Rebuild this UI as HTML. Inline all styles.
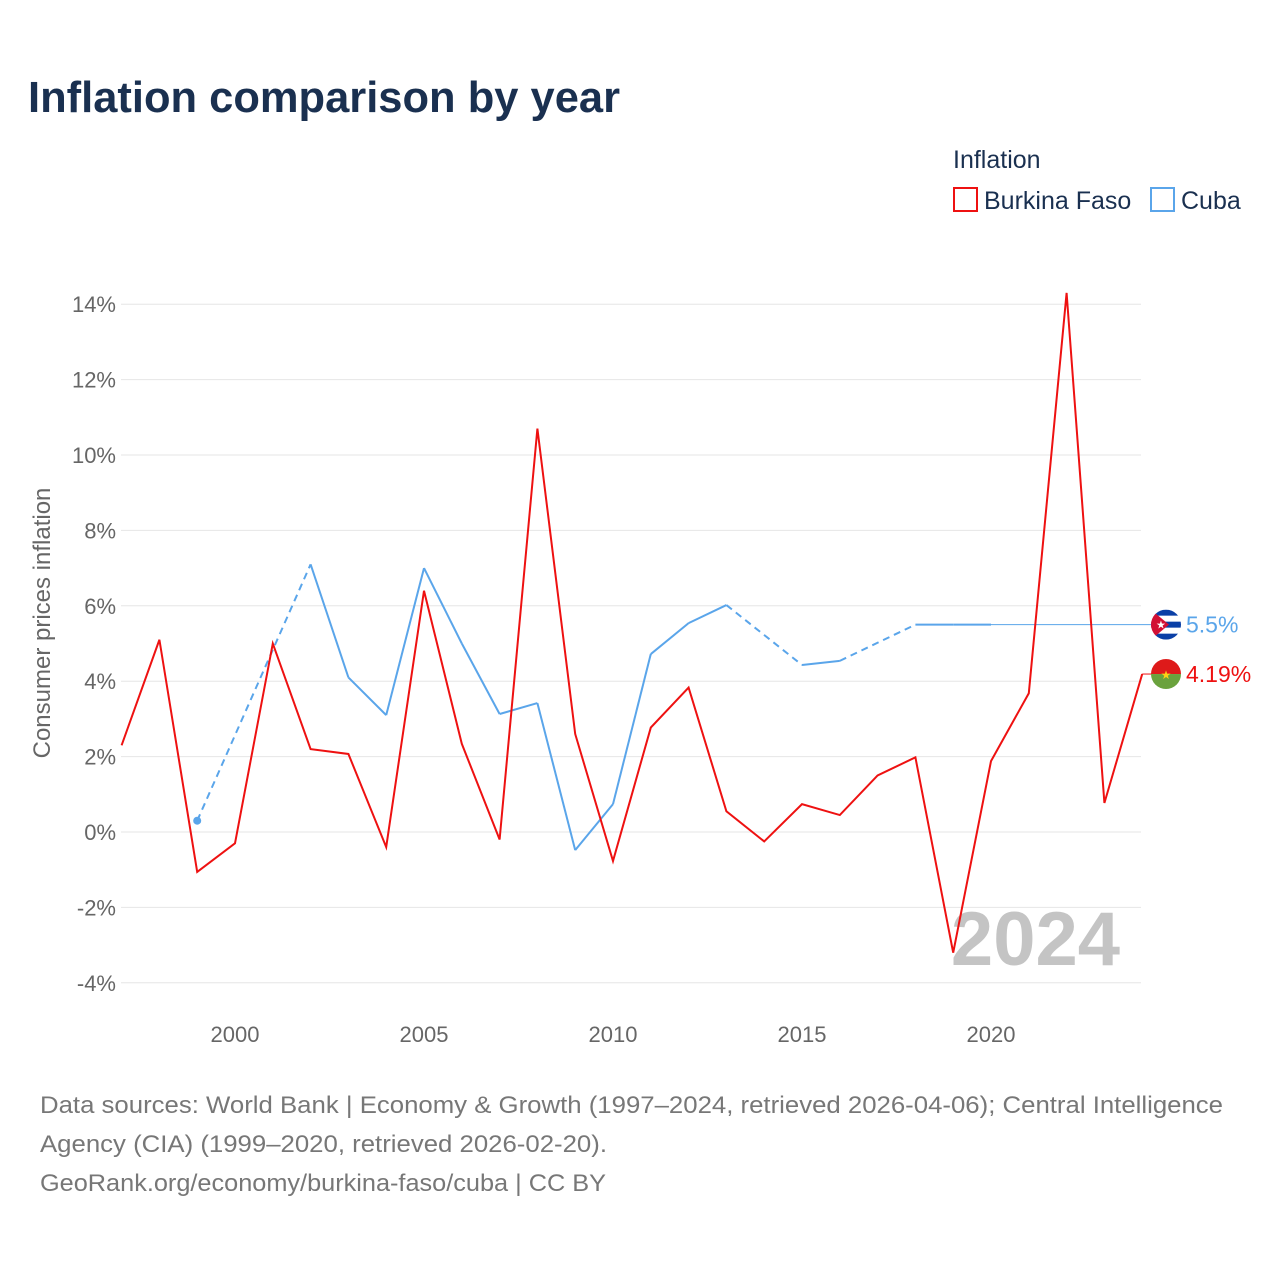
<!DOCTYPE html>
<html><head><meta charset="utf-8">
<style>
body{margin:0;background:#fff;font-family:"Liberation Sans",sans-serif;}
#wrap{position:relative;width:1280px;height:1280px;overflow:hidden;}
</style></head>
<body>
<div id="wrap">
<svg id="chart" width="1280" height="1280">
<text x="28" y="112" font-size="44" font-weight="bold" fill="#1a3050" textLength="592" lengthAdjust="spacingAndGlyphs">Inflation comparison by year</text>
<g>
<text x="953" y="168" font-size="25" fill="#1a3050">Inflation</text>
<g>
<rect x="954" y="188" width="23" height="23" fill="none" stroke="#ee1111" stroke-width="2"/>
<text x="984" y="209" font-size="25" fill="#1a3050">Burkina Faso</text></g>
<g>
<rect x="1151" y="188" width="23" height="23" fill="none" stroke="#5aa5ea" stroke-width="2"/>
<text x="1181" y="209" font-size="25" fill="#1a3050">Cuba</text></g>
</g>
<g id="grid"></g>
<text x="1120" y="965" font-size="76" font-weight="bold" fill="#c4c4c4" text-anchor="end">2024</text>
<g id="series"></g>
<text transform="translate(50,623) rotate(-90)" font-size="24" fill="#666" text-anchor="middle">Consumer prices inflation</text>
<g font-size="24" fill="#777">
<text x="40" y="1113" textLength="1183" lengthAdjust="spacingAndGlyphs">Data sources: World Bank | Economy &amp; Growth (1997–2024, retrieved 2026-04-06); Central Intelligence</text>
<text x="40" y="1152" textLength="567" lengthAdjust="spacingAndGlyphs">Agency (CIA) (1999–2020, retrieved 2026-02-20).</text>
<text x="40" y="1191" textLength="566" lengthAdjust="spacingAndGlyphs">GeoRank.org/economy/burkina-faso/cuba | CC BY</text>
</g>
</svg>
</div>
<script>
const years = [1997,1998,1999,2000,2001,2002,2003,2004,2005,2006,2007,2008,2009,2010,2011,2012,2013,2014,2015,2016,2017,2018,2019,2020,2021,2022,2023,2024];
const burkinaFaso = [2.3,5.1,-1.06,-0.3,5.0,2.2,2.07,-0.4,6.4,2.34,-0.2,10.7,2.6,-0.77,2.77,3.83,0.55,-0.25,0.74,0.45,1.5,1.98,-3.2,1.88,3.68,14.3,0.77,4.19];
const cuba = [null,null,0.3,null,null,7.1,4.1,3.1,7.0,5.0,3.13,3.42,-0.48,0.74,4.72,5.54,6.02,null,4.43,4.54,null,5.5,5.5,5.5,null,null,null,null];
const yTicks = [-4,-2,0,2,4,6,8,10,12,14];
const xTicks = [2000,2005,2010,2015,2020];
const NS="http://www.w3.org/2000/svg";
const X = y => 121.6 + (y-1997)*37.8;
const Y = v => 832 - v*37.7;
const grid=document.getElementById('grid'), ser=document.getElementById('series');
function mk(tag,attrs,parent){const e=document.createElementNS(NS,tag);for(const k in attrs)e.setAttribute(k,attrs[k]);parent.appendChild(e);return e;}
yTicks.forEach(t=>{
  const l=mk('line',{x1:121,x2:1141,y1:Y(t),y2:Y(t),stroke:'#e6e6e6','stroke-width':1},grid);
  
  
  const tx=mk('text',{x:116,y:Y(t)+8,'font-size':22,fill:'#666','text-anchor':'end'},grid);
  tx.textContent=t+'%';
  
  
});
xTicks.forEach(t=>{
  const tx=mk('text',{x:X(t),y:1042,'font-size':22,fill:'#666','text-anchor':'middle'},grid);
  tx.textContent=t;
  
  
});
const pts=[];years.forEach((y,i)=>{if(cuba[i]!==null)pts.push([i,y,cuba[i]]);});
for(let k=1;k<pts.length;k++){
  const a=pts[k-1],b=pts[k];
  const seg=mk('line',{x1:X(a[1]),y1:Y(a[2]),x2:X(b[1]),y2:Y(b[2]),stroke:'#5aa5ea','stroke-width':2},ser);
  if(b[0]-a[0]>1)seg.setAttribute('stroke-dasharray','7,5');
  
  
}
const first=pts[0];
const dot=mk('circle',{cx:X(first[1]),cy:Y(first[2]),r:4,fill:'#5aa5ea'},ser);


const last=pts[pts.length-1];
const ext=mk('line',{x1:X(last[1]),y1:Y(last[2]),x2:1160,y2:Y(last[2]),stroke:'#5aa5ea','stroke-width':1},ser);


const bp=mk('polyline',{points:years.map((y,i)=>X(y)+','+Y(burkinaFaso[i])).join(' '),fill:'none',stroke:'#ee1111','stroke-width':2,'stroke-linejoin':'miter'},ser);


const bl=burkinaFaso[burkinaFaso.length-1];
const bext=mk('line',{x1:X(2024),y1:Y(bl),x2:1152,y2:Y(bl),stroke:'#ee1111','stroke-width':1},ser);


function flag(cy,kind,label,color,name){
  const g=mk('g',{},ser);
  
  
  const cx=1166;
  const cid='clip'+kind;
  const cp=mk('clipPath',{id:cid},g);mk('circle',{cx:cx,cy:cy,r:15},cp);
  const f=mk('g',{'clip-path':'url(#'+cid+')'},g);
  if(kind==='cu'){
    mk('rect',{x:cx-15,y:cy-15,width:30,height:30,fill:'#fff'},f);
    for(let i=0;i<3;i++)mk('rect',{x:cx-15,y:cy-15+i*12,width:30,height:6,fill:'#0a3fa6'},f);
    mk('polygon',{points:`${cx-15},${cy-15} ${cx+3},${cy} ${cx-15},${cy+15}`,fill:'#d21034'},f);
    mk('text',{x:cx-10,y:cy+4,'font-size':11,fill:'#fff'},f).textContent='★';
  }else{
    mk('rect',{x:cx-15,y:cy-15,width:30,height:15,fill:'#de1a1a'},f);
    mk('rect',{x:cx-15,y:cy,width:30,height:15,fill:'#6aa23d'},f);
    mk('text',{x:cx,y:cy+5,'font-size':12,fill:'#fcd116','text-anchor':'middle'},f).textContent='★';
  }
  mk('text',{x:1186,y:cy+8,'font-size':23,fill:color},g).textContent=label;
}
flag(Y(last[2]),'cu',last[2]+'%','#5aa5ea','cuba-end-label');
flag(Y(bl),'bf',bl+'%','#ee1111','burkina-faso-end-label');
</script>
</body></html>
